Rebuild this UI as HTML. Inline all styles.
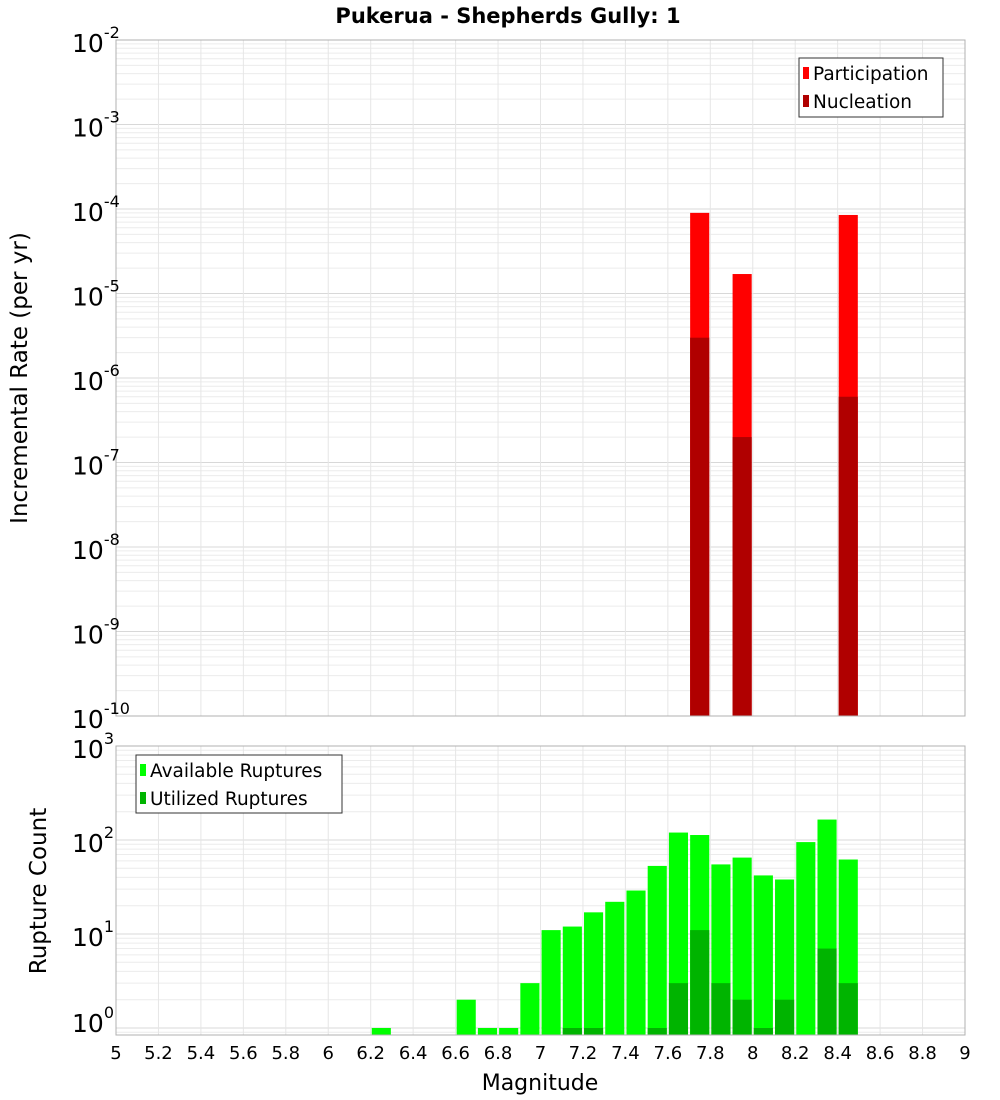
<!DOCTYPE html>
<html><head><meta charset="utf-8"><style>
body{margin:0;background:#fff;width:1000px;height:1100px;overflow:hidden}
svg{display:block;font-family:"DejaVu Sans","Liberation Sans",sans-serif}
</style></head><body>
<svg id="c" width="1000" height="1100" xmlns="http://www.w3.org/2000/svg">
<text x="508" y="23" text-anchor="middle" font-size="21" font-weight="bold">Pukerua - Shepherds Gully: 1</text>
</svg>
<script>
const topBins=[7.75,7.95,8.45];
const participation=[9e-5,1.7e-5,8.5e-5];
const nucleation=[3e-6,2e-7,6e-7];
const botBins=[6.25,6.65,6.75,6.85,6.95,7.05,7.15,7.25,7.35,7.45,7.55,7.65,7.75,7.85,7.95,8.05,8.15,8.25,8.35,8.45];
const available=[1,2,1,1,3,11,12,17,22,29,53,120,113,55,65,42,38,95,165,62];
const utilized=[0,0,0,0,0,0,1,1,0,0,1,3,11,3,2,1,2,0,7,3];
const xTicks=["5","5.2","5.4","5.6","5.8","6","6.2","6.4","6.6","6.8","7","7.2","7.4","7.6","7.8","8","8.2","8.4","8.6","8.8","9"];
const topExps=[-2,-3,-4,-5,-6,-7,-8,-9,-10];
const botExps=[3,2,1,0];

const NS="http://www.w3.org/2000/svg",svg=document.getElementById('c');
const L=116,R=965;
const X=v=>L+(v-5)/4*(R-L);
const T0=40,T1=716,B0=746,B1=1035;
const yTop=v=>T0+(-2-Math.log10(v))*(T1-T0)/8;
const bDec=94;
const yBot=v=>B0+(3-Math.log10(v))*bDec;
function el(t,a,p){const e=document.createElementNS(NS,t);for(const k in a)e.setAttribute(k,a[k]);(p||svg).appendChild(e);return e;}
function grid(y0,y1,yf,lo,hi,nm){
  for(let d=lo;d<hi;d++)for(let m=1;m<10;m++){const y=yf(m*Math.pow(10,d));if(y<y0-0.5||y>y1+0.5)continue;
    const g=el('line',{x1:L,x2:R,y1:y,y2:y,stroke:m==1?'#d8d8d8':'#ececec','stroke-width':1});
    
    }
  for(let i=0;i<xTicks.length;i++){const x=X(5+i*0.2);
    const g=el('line',{x1:x,x2:x,y1:y0,y2:y1,stroke:'#e6e6e6','stroke-width':1});
    
    }
}
grid(T0,T1,yTop,-10,-2,'top');
grid(B0,B1,yBot,-1,3,'bottom');
const bw=(X(5.1)-X(5))*0.9;
function bar(c,v,yf,y1,fill,nm){const x=X(c)-bw/2,y=yf(v);
  const r=el('rect',{x:x,y:y,width:bw,height:y1-y,fill:fill});
  
  }
topBins.forEach((c,i)=>{bar(c,participation[i],yTop,T1,'#ff0000','participation-bar');bar(c,nucleation[i],yTop,T1,'#b00000','nucleation-bar');});
botBins.forEach((c,i)=>{bar(c,available[i],yBot,B1,'#00ff00','available-bar');if(utilized[i]>0)bar(c,utilized[i],yBot,B1,'#00b400','utilized-bar');});
[[T0,T1,'top-plot-frame'],[B0,B1,'bottom-plot-frame']].forEach(f=>{const r=el('rect',{x:L,y:f[0],width:R-L,height:f[1]-f[0],fill:'none',stroke:'#b0b0b0'});
  
  });
function ylab(e,y,nm){const t=el('text',{x:72,y:y+12,'text-anchor':'start','font-size':25});
  
  
  t.innerHTML='10<tspan dy="-14" font-size="16">'+e+'</tspan>';}
topExps.forEach(e=>ylab(e,yTop(Math.pow(10,e)),'top-y-tick-label'));
botExps.forEach(e=>ylab(e,yBot(Math.pow(10,e))-(e==0?8:0),'bottom-y-tick-label'));
xTicks.forEach((s,i)=>{const t=el('text',{x:X(5+i*0.2),y:1059,'text-anchor':'middle','font-size':18});
  
  
  t.textContent=s;});
function txt(a,s,nm){const t=el('text',a);t.textContent=s;
  
  return t;}
txt({x:540,y:1090,'text-anchor':'middle','font-size':22},'Magnitude','x-axis-title');
txt({x:0,y:0,'text-anchor':'middle','font-size':23,transform:'translate(27,378) rotate(-90)'},'Incremental Rate (per yr)','top-y-axis-title');
txt({x:0,y:0,'text-anchor':'middle','font-size':23,transform:'translate(46,891) rotate(-90)'},'Rupture Count','bottom-y-axis-title');
function legend(x,y,w,h,items,nm){const r=el('rect',{x:x,y:y,width:w,height:h,fill:'#fff',stroke:'#333'});
  
  
  items.forEach((it,i)=>{const sy=y+9+i*28;
    const s=el('rect',{x:x+4,y:sy,width:6,height:12,fill:it[1]});
    
    
    txt({x:x+14,y:sy+13,'font-size':18.5},it[0],'legend-entry');});}
legend(799,58,144,59,[['Participation','#ff0000'],['Nucleation','#b00000']],'top-legend');
legend(136,755,206,58,[['Available Ruptures','#00ff00'],['Utilized Ruptures','#00b400']],'bottom-legend');
</script>
</body></html>
